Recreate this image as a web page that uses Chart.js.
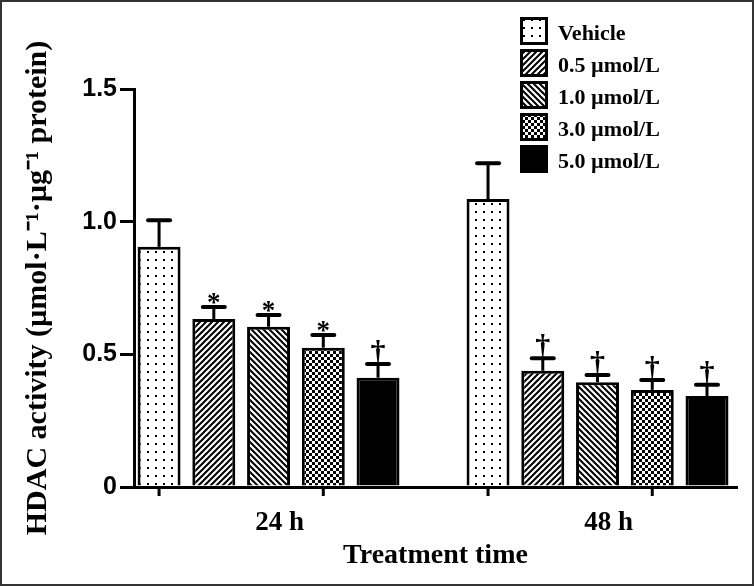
<!DOCTYPE html>
<html>
<head>
<meta charset="utf-8">
<script src="https://cdn.jsdelivr.net/npm/chart.js@4.4.1/dist/chart.umd.min.js"></script>
<style>
  body { margin: 0; background: #fff; }
  canvas { display: block; }
</style>
</head>
<body>
<canvas id="hdacChart" width="754" height="586"></canvas>
<script>
// Data
const timeLabels = ['24 h', '48 h'];
const timePositions = [0, 1];
const seriesNames = ['Vehicle', '0.5 \u00b5mol/L', '1.0 \u00b5mol/L', '3.0 \u00b5mol/L', '5.0 \u00b5mol/L'];

const vehicleVals = [0.905, 1.085];
const dose05Vals = [0.633, 0.438];
const dose10Vals = [0.604, 0.395];
const dose30Vals = [0.525, 0.366];
const dose50Vals = [0.412, 0.343];

const vehicleErr = [0.100, 0.135];
const dose05Err = [0.045, 0.047];
const dose10Err = [0.044, 0.027];
const dose30Err = [0.048, 0.037];
const dose50Err = [0.052, 0.042];

const vehicleSig = ['', ''];
const dose05Sig = ['*', '\u2020'];
const dose10Sig = ['*', '\u2020'];
const dose30Sig = ['*', '\u2020'];
const dose50Sig = ['\u2020', '\u2020'];

const yTickLabels = ['0', '0.5', '1.0', '1.5'];

const serifFont = "'Liberation Serif', 'Times New Roman', serif";
const sansFont = "'Liberation Sans', Arial, sans-serif";

// Fill patterns
function makePattern(size, draw) {
    const c = document.createElement('canvas');
    c.width = size;
    c.height = size;
    const g = c.getContext('2d');
    g.fillStyle = '#fff';
    g.fillRect(0, 0, size, size);
    g.fillStyle = '#000';
    g.strokeStyle = '#000';
    draw(g, size);
    return g.createPattern(c, 'repeat');
}

const ctxMain = document.getElementById('hdacChart').getContext('2d');

const dotPattern = makePattern(8, (g) => {
    g.fillRect(3, 3, 2, 2);
});
const slashPattern = makePattern(6, (g, s) => {
    g.lineWidth = 2;
    g.beginPath();
    g.moveTo(-1, s + 1); g.lineTo(s + 1, -1);
    g.moveTo(-1, 1); g.lineTo(1, -1);
    g.moveTo(s - 1, s + 1); g.lineTo(s + 1, s - 1);
    g.stroke();
});
const backslashPattern = makePattern(6, (g, s) => {
    g.lineWidth = 2;
    g.beginPath();
    g.moveTo(-1, -1); g.lineTo(s + 1, s + 1);
    g.moveTo(s - 1, -1); g.lineTo(s + 1, 1);
    g.moveTo(-1, s - 1); g.lineTo(1, s + 1);
    g.stroke();
});
const checkPattern = makePattern(6, (g) => {
    g.fillRect(0, 0, 3, 3);
    g.fillRect(3, 3, 3, 3);
});

const fills = [dotPattern, slashPattern, backslashPattern, checkPattern, '#000'];
const allVals = [vehicleVals, dose05Vals, dose10Vals, dose30Vals, dose50Vals];
const allErr = [vehicleErr, dose05Err, dose10Err, dose30Err, dose50Err];
const allSig = [vehicleSig, dose05Sig, dose10Sig, dose30Sig, dose50Sig];

const datasets = seriesNames.map((name, i) => ({
    label: name,
    data: allVals[i].map((v, j) => ({ x: timePositions[j], y: v })),
    backgroundColor: fills[i],
    borderColor: '#000',
    borderWidth: 3,
    categoryPercentage: 0.832,
    barPercentage: 0.785
}));

// Error bars, significance marks, x tick marks, legend and frame
const extrasPlugin = {
    id: 'extras',
    afterDatasetsDraw(chart) {
        const ctx = chart.ctx;
        const yScale = chart.scales.y;
        ctx.save();
        ctx.strokeStyle = '#000';
        ctx.fillStyle = '#000';
        chart.data.datasets.forEach((ds, i) => {
            const meta = chart.getDatasetMeta(i);
            meta.data.forEach((bar, j) => {
                const top = yScale.getPixelForValue(allVals[i][j]);
                const errTop = yScale.getPixelForValue(allVals[i][j] + allErr[i][j]);
                ctx.lineWidth = 3;
                ctx.beginPath();
                ctx.moveTo(bar.x, top);
                ctx.lineTo(bar.x, errTop);
                ctx.stroke();
                ctx.lineWidth = 4;
                ctx.lineCap = 'round';
                ctx.beginPath();
                ctx.moveTo(bar.x - 11, errTop);
                ctx.lineTo(bar.x + 11, errTop);
                ctx.stroke();
                ctx.lineCap = 'butt';
                const sig = allSig[i][j];
                ctx.textAlign = 'center';
                ctx.textBaseline = 'alphabetic';
                if (sig === '*') {
                    ctx.font = 'bold 27px ' + serifFont;
                    ctx.fillText(sig, bar.x, errTop + 4);
                } else if (sig) {
                    ctx.font = 'bold 30px ' + serifFont;
                    ctx.fillText(sig, bar.x, errTop - 3);
                }
            });
        });
        ctx.restore();
    },
    afterDraw(chart) {
        const ctx = chart.ctx;
        const area = chart.chartArea;
        ctx.save();
        // tick marks under the first and fourth bar of each group
        ctx.strokeStyle = '#000';
        ctx.lineWidth = 3;
        [0, 3].forEach(di => {
            chart.getDatasetMeta(di).data.forEach(bar => {
                ctx.beginPath();
                ctx.moveTo(bar.x, area.bottom);
                ctx.lineTo(bar.x, area.bottom + 9);
                ctx.stroke();
            });
        });
        // legend
        chart.data.datasets.forEach((ds, i) => {
            const bx = 520, by = 17 + i * 32;
            ctx.fillStyle = ds.backgroundColor;
            ctx.fillRect(bx, by, 28, 28);
            ctx.lineWidth = 3;
            ctx.strokeRect(bx + 1.5, by + 1.5, 25, 25);
            ctx.fillStyle = '#000';
            ctx.font = 'bold 22px ' + serifFont;
            ctx.textAlign = 'left';
            ctx.textBaseline = 'middle';
            ctx.fillText(ds.label, 558, by + 17);
        });
        // outer frame
        ctx.strokeStyle = '#333';
        ctx.lineWidth = 2;
        ctx.strokeRect(1, 1, chart.width - 2, chart.height - 2);
        ctx.restore();
    }
};

new Chart(ctxMain, {
    type: 'bar',
    data: { datasets: datasets },
    options: {
        responsive: false,
        animation: false,
        layout: { padding: { left: 20, top: 89, right: 17, bottom: 0 } },
        plugins: {
            legend: { display: false },
            tooltip: { enabled: false }
        },
        scales: {
            x: {
                type: 'linear',
                min: -0.409,
                max: 1.424,
                offset: false,
                bounds: 'data',
                afterBuildTicks: (scale) => {
                    scale.ticks = timePositions.map(v => ({ value: v }));
                },
                afterFit: (scale) => { scale.height = 99; },
                grid: { display: false, drawTicks: false },
                border: { display: true, color: '#000', width: 3 },
                ticks: {
                    autoSkip: false,
                    maxRotation: 0,
                    padding: 20,
                    labelOffset: 11,
                    color: '#000',
                    font: { family: serifFont, size: 27, weight: 'bold' },
                    callback: (v, i) => timeLabels[i]
                },
                title: {
                    display: true,
                    text: 'Treatment time',
                    color: '#000',
                    font: { family: serifFont, size: 28, weight: 'bold' },
                    padding: { top: 0, bottom: 13 }
                }
            },
            y: {
                min: 0,
                max: 1.5,
                afterFit: (scale) => { scale.width = 114; },
                grid: { drawOnChartArea: false, drawTicks: true, tickLength: 14, lineWidth: 3, color: '#000' },
                border: { display: true, color: '#000', width: 3 },
                ticks: {
                    stepSize: 0.5,
                    padding: 3,
                    color: '#000',
                    font: { family: sansFont, size: 25, weight: 'bold' },
                    callback: (v, i) => yTickLabels[i]
                },
                title: {
                    display: true,
                    text: 'HDAC activity (\u00b5mol\u00b7L\u207b\u00b9\u00b7\u00b5g\u207b\u00b9 protein)',
                    color: '#000',
                    font: { family: serifFont, size: 30, weight: 'bold' },
                    padding: { top: 0, bottom: 0 }
                }
            }
        }
    },
    plugins: [extrasPlugin]
});
</script>
</body>
</html>
